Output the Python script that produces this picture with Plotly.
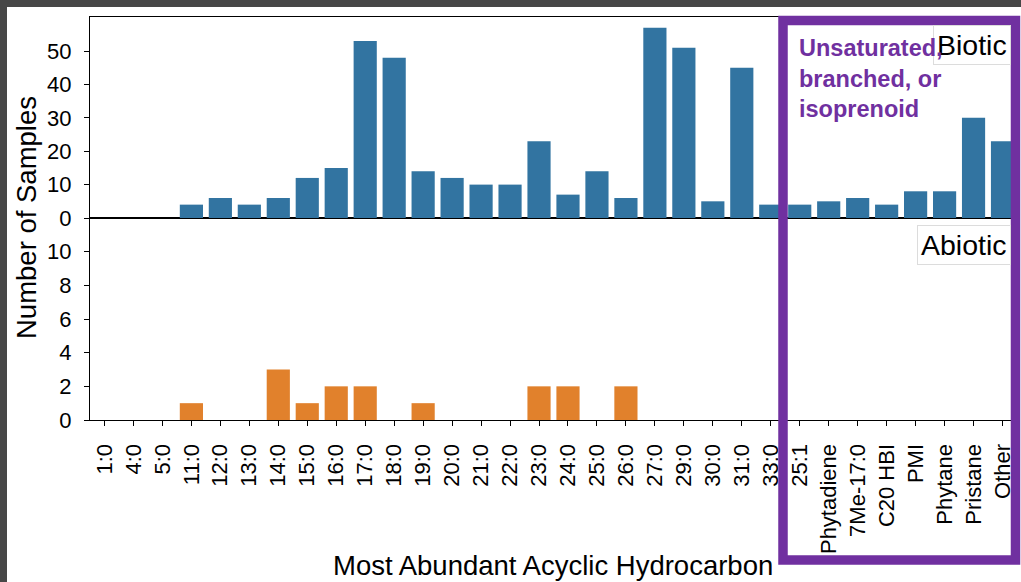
import plotly.graph_objects as go

categories = ["1:0", "4:0", "5:0", "11:0", "12:0", "13:0", "14:0", "15:0", "16:0", "17:0",
              "18:0", "19:0", "20:0", "21:0", "22:0", "23:0", "24:0", "25:0", "26:0", "27:0",
              "29:0", "30:0", "31:0", "33:0", "25:1", "Phytadiene", "7Me-17:0", "C20 HBI",
              "PMI", "Phytane", "Pristane", "Other"]
biotic = [0, 0, 0, 4, 6, 4, 6, 12, 15, 53,
          48, 14, 12, 10, 10, 23, 7, 14, 6, 57,
          51, 5, 45, 4, 4, 5, 6, 4, 8, 8, 30, 23]
abiotic = [0, 0, 0, 1, 0, 0, 3, 1, 2, 2,
           0, 1, 0, 0, 0, 2, 2, 0, 2, 0,
           0, 0, 0, 0, 0, 0, 0, 0, 0, 0, 0, 0]
top_ticks = [0, 10, 20, 30, 40, 50]
bottom_ticks = [0, 2, 4, 6, 8, 10]

W, H = 1021, 582
ML, MR, MT, MB = 90, 4, 17, 162
PW, PH = W - ML - MR, H - MT - MB


def X(px):
    return (px - ML) / PW


def Y(py):
    return (H - MB - py) / PH


split = Y(218)
FONT = "Liberation Sans, Arial, Helvetica, sans-serif"
BLUE = "#3274a1"
ORANGE = "#e1812c"
PURPLE = "#7030a0"

fig = go.Figure()
fig.add_trace(go.Bar(x=categories, y=biotic, marker=dict(color=BLUE, line=dict(width=0)),
                     xaxis="x2", yaxis="y2", showlegend=False))
fig.add_trace(go.Bar(x=categories, y=abiotic, marker=dict(color=ORANGE, line=dict(width=0)),
                     xaxis="x", yaxis="y", showlegend=False))

axis_common = dict(showline=True, linecolor="black", linewidth=1.3, mirror=True,
                   showgrid=False, zeroline=False)

fig.update_layout(
    width=W, height=H,
    margin=dict(l=ML, r=MR, t=MT, b=MB, pad=0),
    paper_bgcolor="white", plot_bgcolor="white",
    font=dict(family=FONT, color="black", size=22),
    bargap=0.2,
    xaxis=dict(type="category", anchor="y", domain=[0, 1], range=[-0.5, 31.5],
               ticks="outside", ticklen=5, tickwidth=1.2, tickcolor="black",
               tickangle=-90, tickfont=dict(size=22), ticklabelstandoff=9, **axis_common),
    xaxis2=dict(type="category", anchor="y2", matches="x", domain=[0, 1],
                showticklabels=False, ticks="", **axis_common),
    yaxis=dict(domain=[0, split], range=[0, 12], tickvals=bottom_ticks,
               ticks="outside", ticklen=5, tickwidth=1.2, tickcolor="black",
               tickfont=dict(size=22), ticklabelstandoff=8, **axis_common),
    yaxis2=dict(domain=[split, 1], range=[0, 60.2], tickvals=top_ticks,
                ticks="outside", ticklen=5, tickwidth=1.2, tickcolor="black",
                tickfont=dict(size=22), ticklabelstandoff=8, **axis_common),
)

annotations = [
    dict(text="Number of Samples", x=X(26), y=split, xref="paper", yref="paper",
         textangle=-90, showarrow=False, font=dict(size=27.5), xanchor="center", yanchor="middle"),
    dict(text="Most Abundant Acyclic Hydrocarbon", x=X(552.5), y=Y(565), xref="paper", yref="paper",
         showarrow=False, font=dict(size=27.5), xanchor="center", yanchor="middle"),
    dict(text="Biotic", x=X(1010.5), y=Y(25), xref="paper", yref="paper", showarrow=False,
         font=dict(size=28.5), xanchor="right", yanchor="top", bgcolor="white",
         bordercolor="#dcdcdc", borderwidth=1, borderpad=3),
    dict(text="Abiotic", x=X(1010.5), y=Y(225), xref="paper", yref="paper", showarrow=False,
         font=dict(size=28.5), xanchor="right", yanchor="top", bgcolor="white",
         bordercolor="#dcdcdc", borderwidth=1, borderpad=3),
    dict(text="<b>Unsaturated,<br>branched, or<br>isoprenoid</b>", x=X(797), y=Y(33),
         xref="paper", yref="paper", showarrow=False, align="left",
         font=dict(size=23.5, color=PURPLE), xanchor="left", yanchor="top"),
]
fig.update_layout(annotations=annotations)

shapes = [
    dict(type="rect", xref="paper", yref="paper", x0=X(783), x1=X(1015.5), y0=Y(560), y1=Y(20.5),
         line=dict(color=PURPLE, width=9.5), fillcolor="rgba(0,0,0,0)", layer="above"),
    dict(type="rect", xref="paper", yref="paper", x0=X(0), x1=X(7), y0=Y(582), y1=Y(0),
         line=dict(width=0), fillcolor="#474747", layer="above"),
    dict(type="rect", xref="paper", yref="paper", x0=X(0), x1=X(1021), y0=Y(7), y1=Y(0),
         line=dict(width=0), fillcolor="#474747", layer="above"),
]
fig.update_layout(shapes=shapes)

fig.write_html("out.html", config={"displayModeBar": False},
               post_script="document.body.style.margin='0';document.body.style.overflow='hidden';")
